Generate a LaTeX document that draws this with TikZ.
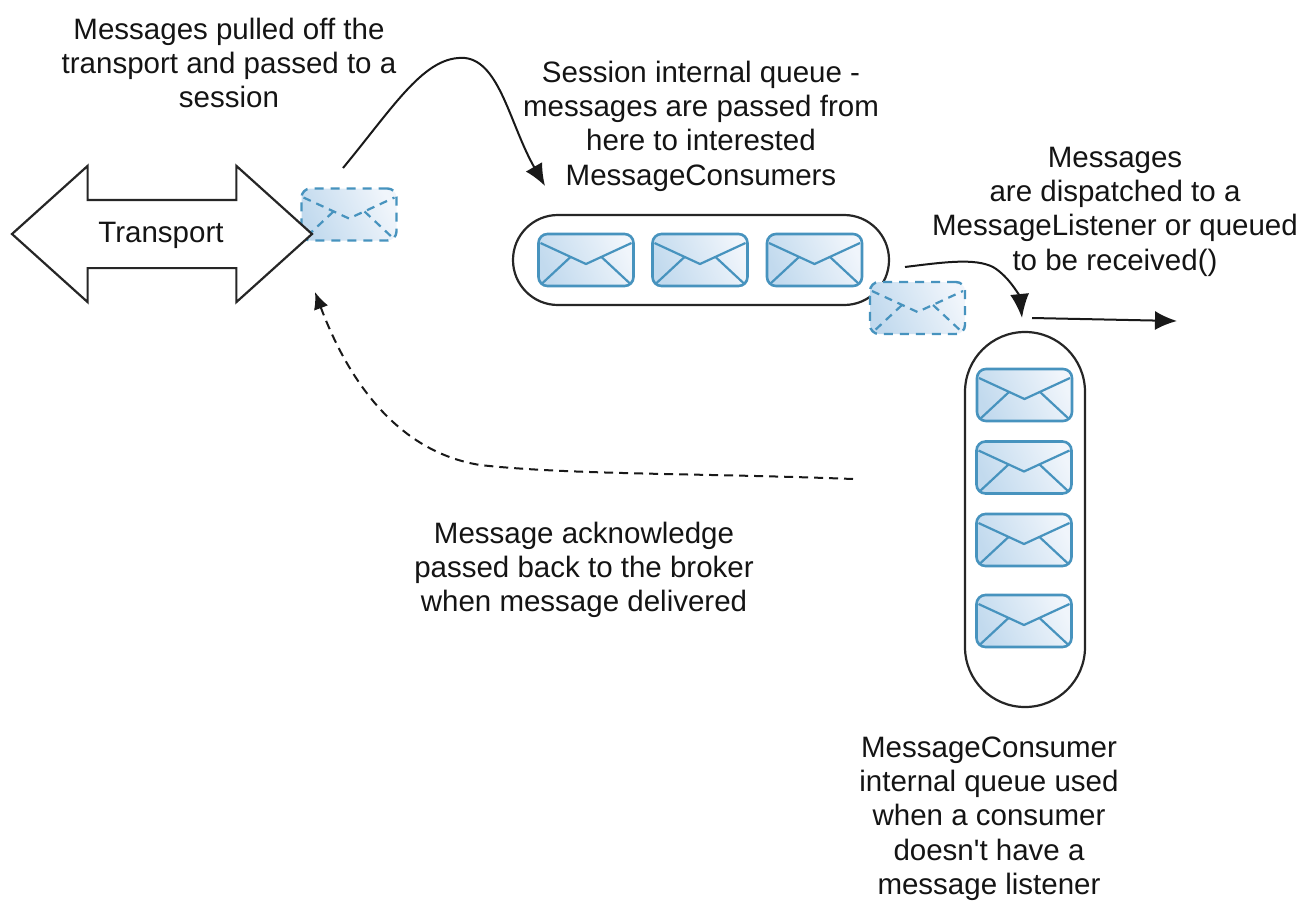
\documentclass[tikz,border=0pt]{standalone}
\usepackage{fontspec}
\newfontfamily\lblfont{Liberation Sans}
\usetikzlibrary{arrows.meta,shapes.arrows,calc}
\definecolor{envline}{HTML}{4793BE}
\definecolor{envdark}{HTML}{C2DAEE}
\definecolor{envlight}{HTML}{F0F5FB}
\tikzset{
  x=1pt,y=-1pt,
  lbl/.style={align=center,inner sep=0pt,font=\lblfont\fontsize{29.5}{34.3}\selectfont,text=black!92},
  pill/.style={draw=black!85,line width=2.2pt,fill=white,rounded corners=44.9pt,inner sep=0pt},
  envbase/.style={rectangle,inner sep=0pt,minimum width=95pt,minimum height=52pt,rounded corners=9pt,
    left color=envdark,right color=envlight,shading angle=115},
  envlines/.style={path picture={
    \draw[sharp corners,#1] ($(path picture bounding box.north west)+(2,9)$)
      -- ($(path picture bounding box.north west)!0.5!(path picture bounding box.north east)+(0,30)$)
      -- ($(path picture bounding box.north east)+(-2,9)$);
    \draw[sharp corners,#1] ($(path picture bounding box.north west)+(32,23)$) -- ($(path picture bounding box.south west)+(3,-2)$);
    \draw[sharp corners,#1] ($(path picture bounding box.north east)+(-32,23)$) -- ($(path picture bounding box.south east)+(-3,-2)$);
  }},
  envelope/.style={envbase,envlines={envline,line width=2.2pt},draw=envline,line width=2.6pt},
  ghost/.style={envbase,envlines={envline,line width=2.2pt,dash pattern=on 8pt off 6pt},
    draw=envline,line width=2.4pt,dash pattern=on 9pt off 7pt},
  conn/.style={draw=black!90,line width=2pt,-{Latex[length=22pt,width=19pt]}},
}
\begin{document}
\begin{tikzpicture}
\useasboundingbox (0,0) rectangle (1308,900);
% pills
\node[pill,minimum width=376pt,minimum height=90pt] (sessionq) at (701,260) {};
\node[pill,minimum width=120pt,minimum height=375pt,rounded corners=59.9pt] (consumerq) at (1025,519.5) {};
% envelopes
\node[envelope] (s1) at (586,260) {};
\node[envelope] (s2) at (700,260) {};
\node[envelope] (s3) at (814.5,260) {};
\node[envelope] (c1) at (1024.5,395) {};
\node[envelope] (c2) at (1024,467.5) {};
\node[envelope] (c3) at (1024,540) {};
\node[envelope] (c4) at (1024,621) {};
\node[ghost] (g1) at (349,214.5) {};
\node[ghost] (g2) at (917.5,308) {};
% transport
\node[double arrow,draw=black!85,line width=2.2pt,fill=white,inner xsep=0pt,inner ysep=33pt,
  minimum width=134pt,minimum height=300pt,
  double arrow head extend=34pt,double arrow tip angle=84,double arrow head indent=0pt]
  (transport) at (162,234) {};
\node[lbl] (transportlabel) at (161,235) {Transport};
% free ends
\coordinate (a1) at (343,168);
\coordinate (a1e) at (545,186);
\coordinate (a2) at (905,267);
\coordinate (a2e) at (1022,318);
\coordinate (a3) at (1032,318);
\coordinate (a3e) at (1177,321);
\coordinate (a4) at (853,479);
\coordinate (a4e) at (315,292);
% connectors
\draw[conn] (a1) .. controls (395,105) and (425,55) .. (465,58)
  .. controls (500,62) and (510,125) .. (a1e);
\draw[conn,-{Latex[length=24pt,width=19pt]}] (a2) .. controls (945,262) and (975,258) .. (993,267)
  .. controls (1010,277) and (1020,298) .. (a2e);
\draw[conn] (a3) -- (a3e);
\draw[conn,line width=2pt,dash pattern=on 9pt off 6pt,-{Latex[length=17pt,width=15pt]}]
  (a4) .. controls (700,473) and (570,475) .. (480,465)
  .. controls (400,452) and (350,385) .. (a4e);
% labels
\node[lbl] (t1) at (229,63) {Messages pulled off the\\transport and passed to a\\session};
\node[lbl] (t2) at (701,126) {Session internal queue -\\messages are passed from\\here to interested\\MessageConsumers};
\node[lbl] (t3) at (1115,211.5) {Messages\\are dispatched to a\\MessageListener or queued\\to be received()};
\node[lbl] (t4) at (584,570) {Message acknowledge\\passed back to the broker\\when message delivered};
\node[lbl] (t5) at (989,818.5) {MessageConsumer\\internal queue used\\when a consumer\\doesn't have a\\message listener};
\end{tikzpicture}
\end{document}
